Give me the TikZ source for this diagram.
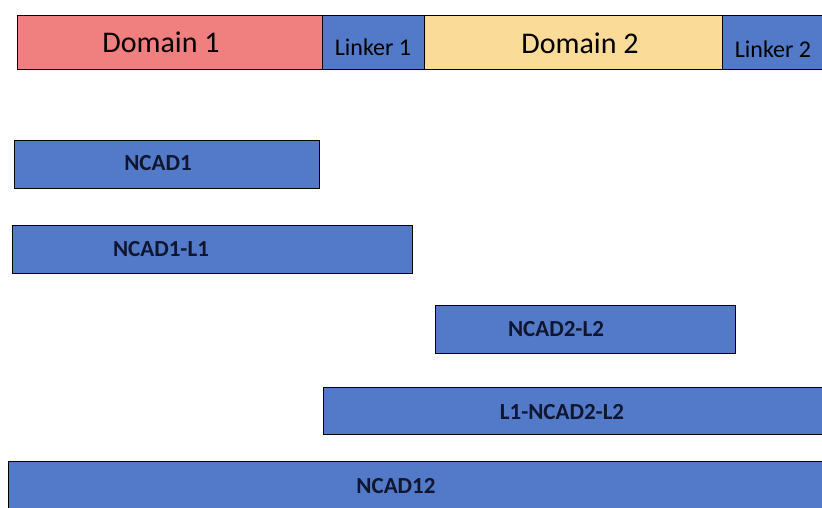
\documentclass[tikz,border=0pt]{standalone}
\usepackage{fontspec}
\setmainfont{Carlito}
\definecolor{domA}{RGB}{240,128,128}
\definecolor{domB}{RGB}{250,220,152}
\definecolor{linkblue}{RGB}{82,122,200}
\definecolor{inkblue}{RGB}{16,22,48}

\begin{document}
\begin{tikzpicture}[x=1pt,y=-1pt,
	seg/.style={draw=black,line width=0.9pt},
	bigname/.style={font=\fontsize{30}{32}\selectfont,text=black,anchor=base},
	linkname/.style={font=\fontsize{24}{26}\selectfont,text=black,anchor=base},
	cname/.style={font=\fontsize{23}{25}\selectfont\bfseries,text=inkblue}]
			\useasboundingbox (0,0) rectangle (822,508);
			\clip (0,0) rectangle (822,508);
			% full-length protein
			\draw[seg,fill=domA] (17,15) rectangle (322,69);
			\draw[seg,fill=linkblue] (322,15) rectangle (424,69);
			\draw[seg,fill=domB] (424,15) rectangle (722,69);
			\draw[seg,fill=linkblue] (722,15) rectangle (830,69);
			\node[bigname] (d1) at (161,53) {Domain 1};
			\node[linkname] (l1) at (373,56) {Linker 1};
			\node[bigname] (d2) at (580,54) {Domain 2};
			\node[linkname] (l2) at (773,58) {Linker 2};
			% constructs
			\draw[seg,fill=linkblue] (14,140) rectangle (319,188);
			\node[cname] (c1) at (158,163) {NCAD1};
			\draw[seg,fill=linkblue] (12,225) rectangle (412,273);
			\node[cname] (c2) at (161,249) {NCAD1-L1};
			\draw[seg,fill=linkblue] (435,305) rectangle (735,353);
			\node[cname] (c3) at (556,329) {NCAD2-L2};
			\draw[seg,fill=linkblue] (323,387) rectangle (830,434);
			\node[cname] (c4) at (562,412) {L1-NCAD2-L2};
			\draw[seg,fill=linkblue] (8,461) rectangle (830,515);
			\node[cname] (c5) at (396,486) {NCAD12};
\end{tikzpicture}
\end{document}
